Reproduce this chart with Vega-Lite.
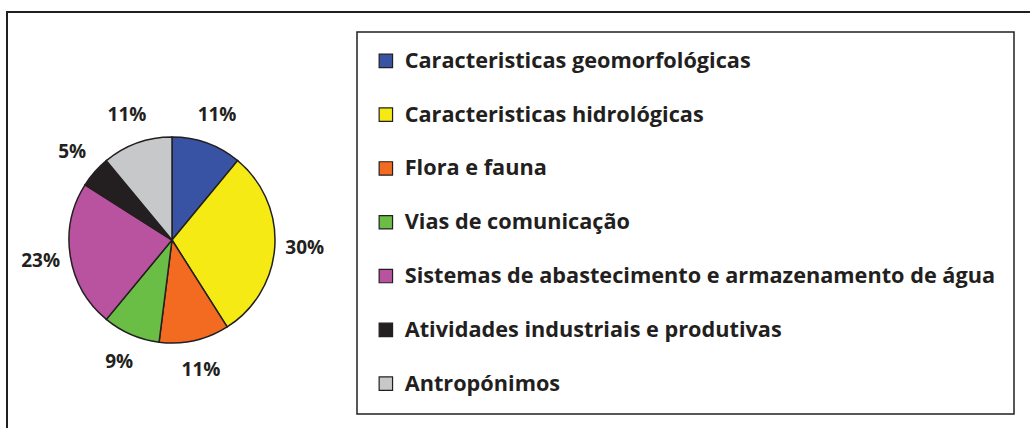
{
  "$schema": "https://vega.github.io/schema/vega-lite/v6.json",
  "autosize": {"type": "none"},
  "width": 1040,
  "height": 440,
  "padding": {"left": 7, "top": 12, "right": 0, "bottom": 0},
  "background": "white",
  "view": {"stroke": "#231F20", "strokeWidth": 2},
  "config": {
    "view": {"stroke": "#231F20", "strokeWidth": 2},
    "font": "Open Sans"
  },
  "data": {
    "values": [
      {"categoria": "Caracteristicas geomorfológicas", "valor": 11, "ordem": 1, "rotulo": "11%"},
      {"categoria": "Caracteristicas hidrológicas", "valor": 30, "ordem": 2, "rotulo": "30%"},
      {"categoria": "Flora e fauna", "valor": 11, "ordem": 3, "rotulo": "11%"},
      {"categoria": "Vias de comunicação", "valor": 9, "ordem": 4, "rotulo": "9%"},
      {"categoria": "Sistemas de abastecimento e armazenamento de água", "valor": 23, "ordem": 5, "rotulo": "23%"},
      {"categoria": "Atividades industriais e produtivas", "valor": 5, "ordem": 6, "rotulo": "5%"},
      {"categoria": "Antropónimos", "valor": 11, "ordem": 7, "rotulo": "11%"}
    ]
  },
  "encoding": {
    "theta": {"field": "valor", "type": "quantitative", "stack": true},
    "order": {"field": "ordem", "type": "quantitative"}
  },
  "layer": [
    {
      "mark": {"type": "arc", "outerRadius": 103, "x": 165, "y": 228, "stroke": "#231F20", "strokeWidth": 1.5},
      "encoding": {
        "color": {
          "field": "categoria",
          "type": "nominal",
          "sort": null,
          "scale": {
            "domain": ["Caracteristicas geomorfológicas", "Caracteristicas hidrológicas", "Flora e fauna", "Vias de comunicação", "Sistemas de abastecimento e armazenamento de água", "Atividades industriais e produtivas", "Antropónimos"],
            "range": ["#3953A4", "#F5EA14", "#F26B21", "#6ABD45", "#B9529F", "#231F20", "#C7C8CA"]
          },
          "legend": {
            "title": null,
            "orient": "none",
            "legendX": 350,
            "legendY": 20,
            "padding": 18,
            "strokeColor": "#231F20",
            "symbolType": "square",
            "symbolSize": 180,
            "symbolStrokeColor": "#231F20",
            "symbolStrokeWidth": 1.2,
            "symbolOpacity": 1,
            "labelFont": "Open Sans",
            "labelFontWeight": "bold",
            "labelFontSize": 21.7,
            "labelColor": "#231F20",
            "labelLimit": 800,
            "labelOffset": 8,
            "rowPadding": 30.8,
            "encode": {"legend": {"update": {"strokeWidth": {"value": 1.5}}}}
          }
        }
      }
    },
    {
      "mark": {"type": "text", "radius": 133, "x": 165, "y": 228, "font": "Open Sans", "fontWeight": "bold", "fontSize": 19, "color": "#231F20"},
      "encoding": {
        "text": {"field": "rotulo", "type": "nominal"}
      }
    }
  ]
}
